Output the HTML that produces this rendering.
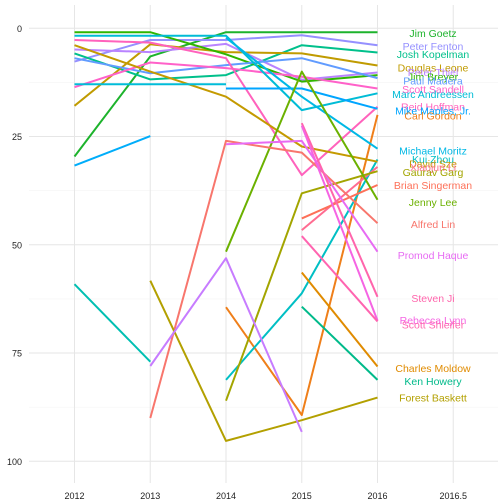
<!DOCTYPE html>
<html><head><meta charset="utf-8">
<style>
html,body{margin:0;padding:0;background:#fff;}
svg{display:block;font-family:"Liberation Sans",sans-serif;}
</style></head>
<body>
<svg id="chart" width="504" height="504" viewBox="0 0 504 504">
<g id="grid"></g>
<g id="lines"></g>
<g id="labels"></g>
<g id="axes"></g>
</svg>
<script>
const years = [2012, 2013, 2014, 2015, 2016];
const xTickValues = [2012, 2013, 2014, 2015, 2016, 2017];
const xTickLabels = ["2012", "2013", "2014", "2015", "2016", "2016.5"];
const yTickValues = [0, 25, 50, 75, 100];
const yMinorValues = [12.5, 37.5, 62.5, 87.5];

const seriesNames = ["Jim Goetz","Peter Fenton","Josh Kopelman","Douglas Leone","Peter Thiel","Jim Breyer","Paul Madera","Scott Sandell","Marc Andreessen","Reid Hoffman","Mike Maples, Jr.","Carl Gordon","Michael Moritz","Kui Zhou","David Sze","Xiaojun Li","Gaurav Garg","Brian Singerman","Jenny Lee","Alfred Lin","Promod Haque","Steven Ji","Rebecca Lynn","Scott Shleifer","Charles Moldow","Ken Howery","Forest Baskett","","","",""];
const seriesColors = ["#1DB32C","#9590FF","#00C08B","#C09B00","#B983FF","#2FB600","#619CFF","#FF61C9","#00BCD6","#FF62BC","#00A5FF","#EF7F1A","#00B8E5","#00BFC4","#C49A00","#FF6C91","#A3A500","#FD7058","#6BB100","#F8766D","#E76BF3","#FF65AC","#F564E3","#FF64B0","#E08B00","#00BA8A","#B3A000","#00BCD8","#00ADFA","#C77CFF","#00BFB2"];
// rank values per series, aligned with years (null = missing)
const rJimGoetz      = [29.6, 6.5, 0.9, 0.9, 0.9];
const rPeterFenton   = [7.7, 2.7, 2.7, 1.6, 3.9];
const rJoshKopelman  = [5.8, 11.8, 10.8, 3.9, 5.6];
const rDouglasLeone  = [17.9, 3.7, 5.5, 5.8, 8.6];
const rPeterThiel    = [4.9, 5.5, 3.6, 11.9, 10.2];
const rJimBreyer     = [0.9, 0.9, 6.0, 12.3, 10.8];
const rPaulMadera    = [6.9, 10.4, 8.5, 6.9, 11.5];
const rScottSandell  = [13.6, 7.9, 9.2, 11.2, 13.9];
const rMarcAndreessen= [1.7, 1.7, 1.7, 18.9, 15.0];
const rReidHoffman   = [2.7, 3.3, 6.9, 33.9, 18.1];
const rMikeMaples    = [null, null, 13.9, 13.9, 18.6];
const rCarlGordon    = [null, null, 64.4, 89.3, 20.0];
const rMichaelMoritz = [null, null, 2.2, 15.8, 27.8];
const rKuiZhou       = [null, null, 81.2, 61.2, 30.3];
const rDavidSze      = [3.9, 10.0, 15.8, 27.3, 30.8];
const rXiaojunLi     = [null, null, null, 46.6, 32.0];
const rGauravGarg    = [null, null, 86.0, 38.1, 33.0];
const rBrianSingerman= [null, null, null, 43.9, 36.2];
const rJennyLee      = [null, null, 51.6, 10.0, 39.6];
const rAlfredLin     = [null, 90.0, 26.0, 28.7, 45.0];
const rPromodHaque   = [null, null, 26.8, 26.0, 51.6];
const rStevenJi      = [null, null, null, 21.9, 62.0];
const rRebeccaLynn   = [null, null, null, 22.5, 67.5];
const rScottShleifer = [null, null, null, 48.0, 67.7];
const rCharlesMoldow = [null, null, null, 56.4, 78.1];
const rKenHowery     = [null, null, null, 64.3, 81.2];
const rForestBaskett = [null, 58.3, 95.3, 90.5, 85.3];
const rUnnamedCyan   = [12.9, 12.9, 12.9, null, null];
const rUnnamedBlue   = [31.7, 24.9, null, null, null];
const rUnnamedViolet = [null, 78.0, 53.1, 93.2, null];
const rUnnamedTeal   = [59.1, 77.0, null, null, null];
const seriesValues = [rJimGoetz,rPeterFenton,rJoshKopelman,rDouglasLeone,rPeterThiel,rJimBreyer,rPaulMadera,rScottSandell,rMarcAndreessen,rReidHoffman,rMikeMaples,rCarlGordon,rMichaelMoritz,rKuiZhou,rDavidSze,rXiaojunLi,rGauravGarg,rBrianSingerman,rJennyLee,rAlfredLin,rPromodHaque,rStevenJi,rRebeccaLynn,rScottShleifer,rCharlesMoldow,rKenHowery,rForestBaskett,rUnnamedCyan,rUnnamedBlue,rUnnamedViolet,rUnnamedTeal];
// label ranks after repel
const labelRanks = [1.2,4.2,6.0,9.1,10.2,11.2,12.1,14.1,15.3,18.2,19.1,20.2,28.3,30.3,31.3,32.1,33.3,36.3,40.2,45.3,52.5,62.4,67.5,68.5,78.5,81.6,85.4];

const NS = "http://www.w3.org/2000/svg";
function xs(v){ return 74.5 + (v - 2012) * 75.75; }
function ys(r){ return 28.3 + r * 4.33; }
function mk(tag, attrs, parent){
  const e = document.createElementNS(NS, tag);
  for (const k in attrs) e.setAttribute(k, attrs[k]);
  parent.appendChild(e); return e;
}
const grid = document.getElementById('grid');
const linesG = document.getElementById('lines');
const labelsG = document.getElementById('labels');
const axes = document.getElementById('axes');
const X0 = 29, X1 = 498, Y0 = 5, Y1 = 483;

yMinorValues.forEach(v => {
  const l = mk('line', {x1:X0, x2:X1, y1:ys(v), y2:ys(v), stroke:'#F4F4F4', 'stroke-width':0.6}, grid);
  
  
});
yTickValues.forEach(v => {
  const l = mk('line', {x1:X0, x2:X1, y1:ys(v), y2:ys(v), stroke:'#E6E6E6', 'stroke-width':1}, grid);
  
  
  const t = mk('text', {x:22, y:ys(v)+3.5, 'text-anchor':'end', 'font-size':9, fill:'#222'}, axes);
  t.textContent = String(v);
  
  
});
xTickValues.forEach((v, i) => {
  const l = mk('line', {x1:xs(v), x2:xs(v), y1:Y0, y2:Y1, stroke:'#E6E6E6', 'stroke-width':1}, grid);
  
  
  const t = mk('text', {x:xs(v), y:499, 'text-anchor':'middle', 'font-size':9, fill:'#222'}, axes);
  t.textContent = xTickLabels[i];
  
  
});

seriesValues.forEach((vals, si) => {
  const pts = [];
  vals.forEach((r, i) => { if (r !== null) pts.push(xs(years[i]).toFixed(1) + ',' + ys(r).toFixed(1)); });
  const p = mk('polyline', {points: pts.join(' '), fill:'none', stroke:seriesColors[si], 'stroke-width':2, 'stroke-linejoin':'round'}, linesG);
  
  
});
labelRanks.forEach((r, i) => {
  const t = mk('text', {x:433, y:ys(r)+3.6, 'text-anchor':'middle', 'font-size':10.5, fill:seriesColors[i]}, labelsG);
  t.textContent = seriesNames[i];
  
  
});
</script>
</body></html>
